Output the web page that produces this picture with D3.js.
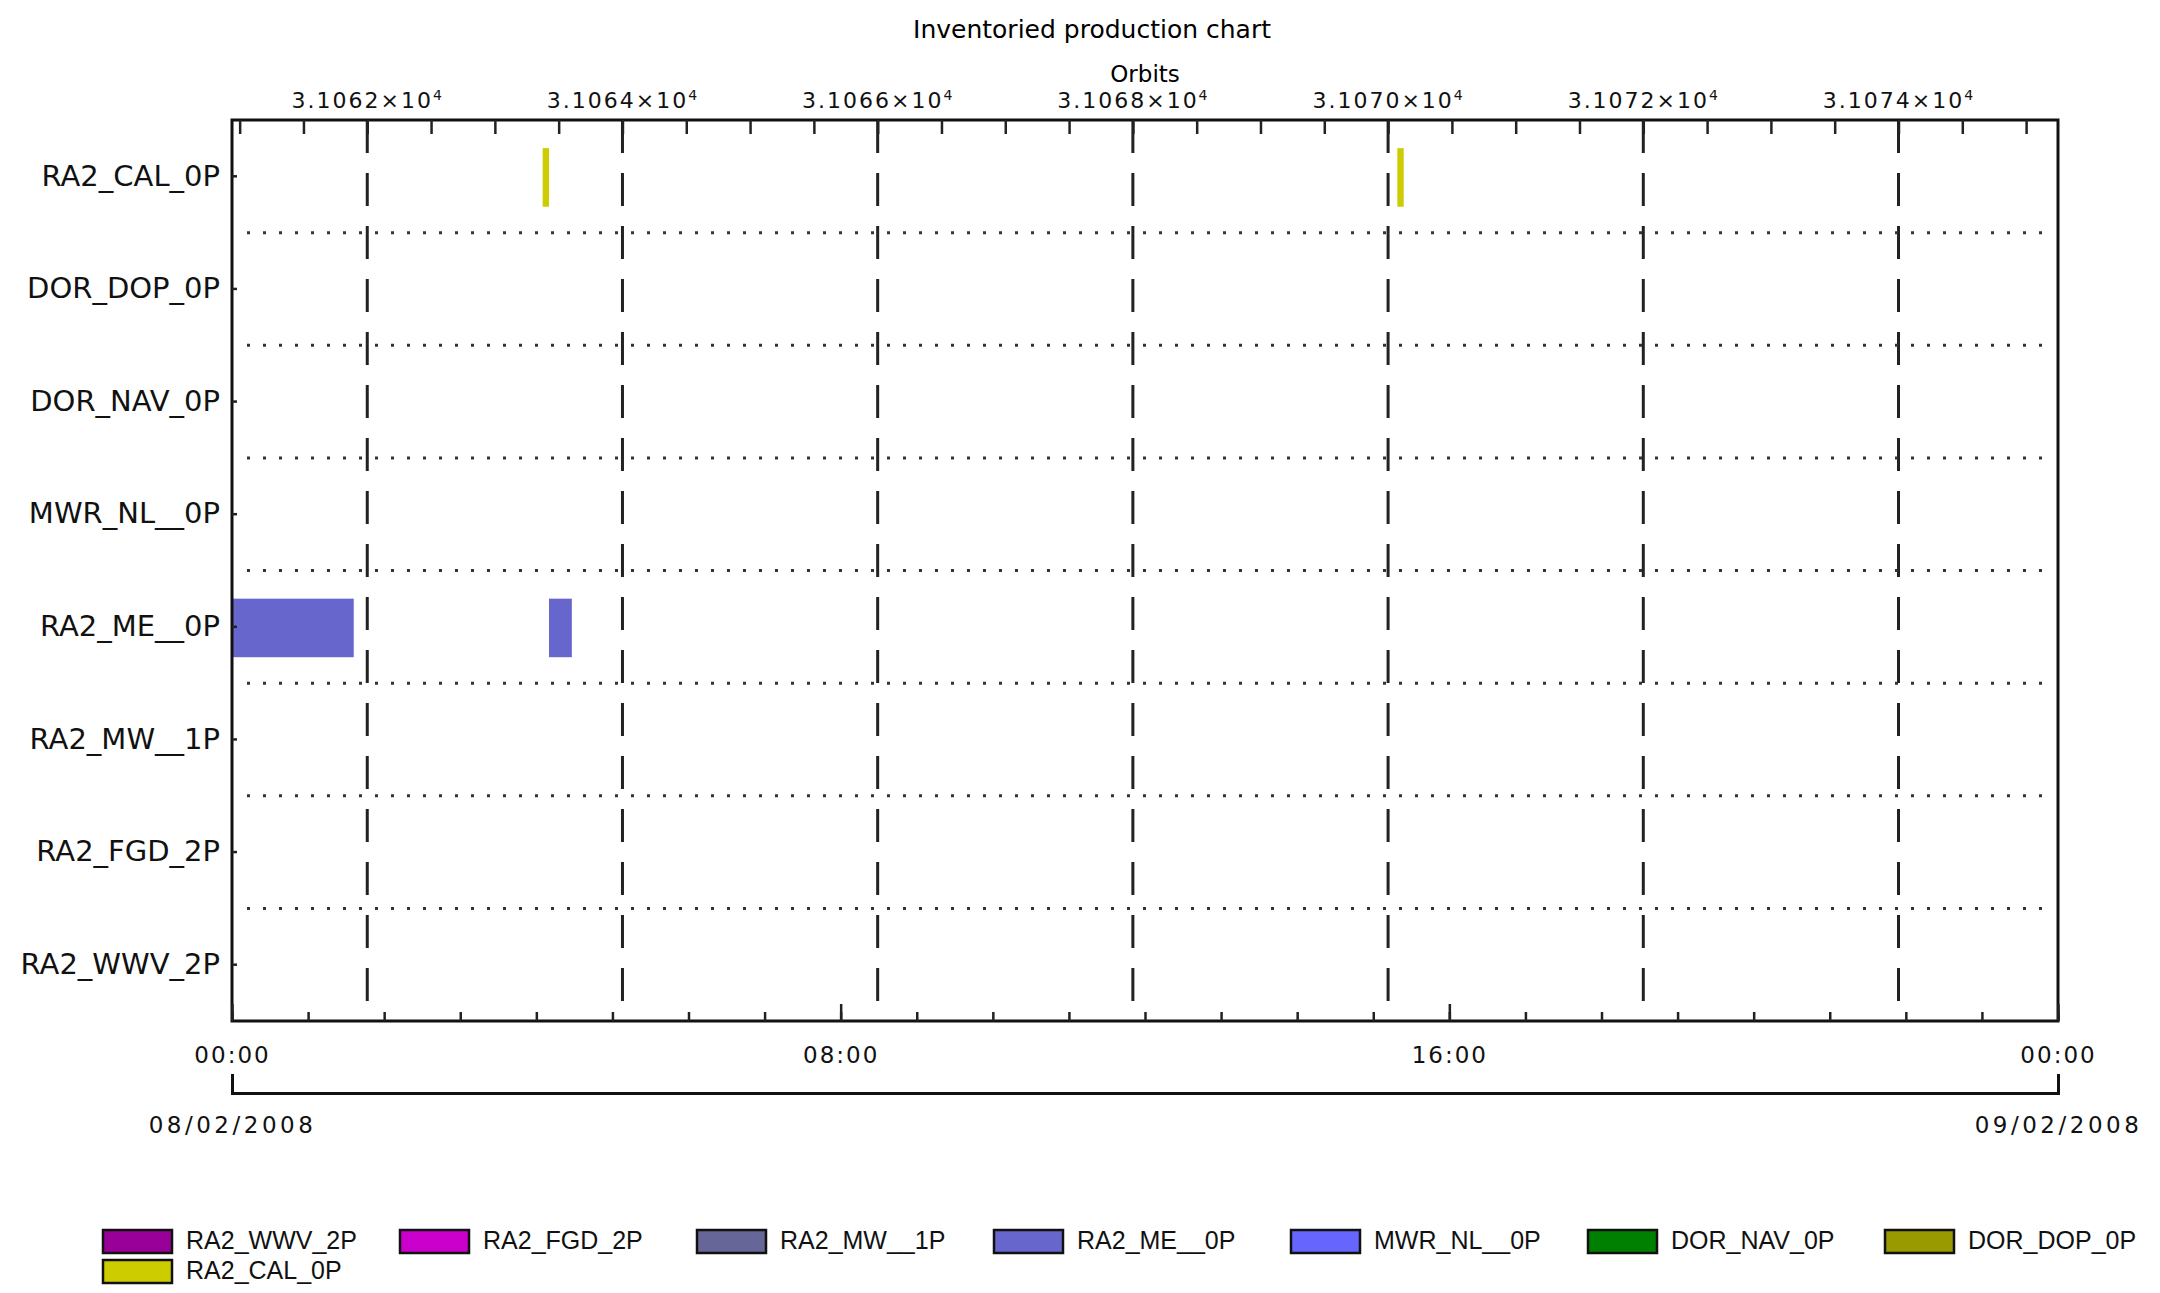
<!DOCTYPE html>
<html>
<head>
<meta charset="utf-8">
<script src="https://cdn.jsdelivr.net/npm/d3@7"></script>
<style>
  body { margin: 0; background: #fff; }
  svg { display: block; font-family: "DejaVu Sans", sans-serif; }
</style>
</head>
<body>
<svg width="2160" height="1293"></svg>
<script>
// rows, top to bottom
const categories = ['RA2_CAL_0P', 'DOR_DOP_0P', 'DOR_NAV_0P', 'MWR_NL__0P',
  'RA2_ME__0P', 'RA2_MW__1P', 'RA2_FGD_2P', 'RA2_WWV_2P'];

// legend order and colours
const legendNames = ['RA2_WWV_2P', 'RA2_FGD_2P', 'RA2_MW__1P', 'RA2_ME__0P',
  'MWR_NL__0P', 'DOR_NAV_0P', 'DOR_DOP_0P', 'RA2_CAL_0P'];
const legendColors = ['#990099', '#cc00cc', '#666699', '#6666cc',
  '#6666ff', '#008000', '#999900', '#cccc00'];

// inventoried products (UTC, 08/02/2008)
const productRow = ['RA2_CAL_0P', 'RA2_CAL_0P', 'RA2_ME__0P', 'RA2_ME__0P'];
const productStart = ['04:05', '15:19', '00:00', '04:10'];
const productEnd = ['04:10', '15:24', '01:36', '04:28'];

// orbit axis
const orbitDomain = [31060.94, 31075.25];
const orbitMajor = [31062, 31064, 31066, 31068, 31070, 31072, 31074];
const orbitMinor = d3.range(31061, 31075.01, 0.5);

const dateLabels = ['08/02/2008', '09/02/2008'];

const svg = d3.select('svg');
const plotLeft = 232, plotRight = 2058, plotTop = 120, plotBottom = 1021;

const parse = s => new Date(`2008-02-08T${s}:00Z`);

const x = d3.scaleUtc()
  .domain([new Date(Date.UTC(2008, 1, 8)), new Date(Date.UTC(2008, 1, 9))])
  .range([plotLeft, plotRight]);

const xOrbit = d3.scaleLinear()
  .domain(orbitDomain)
  .range([plotLeft, plotRight]);

const y = d3.scaleBand()
  .domain(categories)
  .range([plotTop, plotBottom]);

const bw = y.bandwidth();

// title
svg.append('text')
  .attr('x', 1092).attr('y', 38)
  .attr('text-anchor', 'middle')
  .attr('font-size', 25)
  .text('Inventoried production chart');

svg.append('text')
  .attr('x', (plotLeft + plotRight) / 2).attr('y', 82)
  .attr('text-anchor', 'middle')
  .attr('font-size', 23)
  .text('Orbits');

// vertical dashed grid at orbit majors
svg.append('g')
  .selectAll('line')
  .data(orbitMajor)
  .enter()
  .append('line')
  .attr('x1', d => xOrbit(d)).attr('x2', d => xOrbit(d))
  .attr('y1', plotTop).attr('y2', plotBottom)
  .attr('stroke', '#222')
  .attr('stroke-width', 3)
  .attr('stroke-dasharray', '33,20');

// dotted row separators
svg.append('g')
  .selectAll('line')
  .data(categories.slice(1))
  .enter()
  .append('line')
  .attr('x1', 247).attr('x2', 2050)
  .attr('y1', d => y(d)).attr('y2', d => y(d))
  .attr('stroke', '#333')
  .attr('stroke-width', 3)
  .attr('stroke-dasharray', '3,13');

// product bars
const products = productRow.map((row, i) => ({
  row: row, start: parse(productStart[i]), end: parse(productEnd[i])
}));

svg.append('g')
  .selectAll('rect')
  .data(products)
  .enter()
  .append('rect')
  .attr('x', d => x(d.start))
  .attr('y', d => y(d.row) + bw * 0.25)
  .attr('width', d => Math.max(x(d.end) - x(d.start), 5))
  .attr('height', bw * 0.52)
  .attr('fill', d => legendColors[legendNames.indexOf(d.row)]);

// frame
svg.append('rect')
  .attr('x', plotLeft).attr('y', plotTop)
  .attr('width', plotRight - plotLeft).attr('height', plotBottom - plotTop)
  .attr('fill', 'none')
  .attr('stroke', '#111')
  .attr('stroke-width', 3);

function styleAxis(g) {
  g.select('.domain').remove();
  g.selectAll('.tick line').attr('stroke', '#222').attr('stroke-width', 2.5);
  g.selectAll('.tick text').attr('fill', '#111');
}

// top orbit axis
svg.append('g')
  .attr('transform', `translate(0,${plotTop})`)
  .call(d3.axisTop(xOrbit).tickValues(orbitMinor).tickSize(-14).tickFormat(''))
  .call(styleAxis);

const orbitLabels = svg.append('g')
  .attr('transform', `translate(0,${plotTop})`)
  .call(d3.axisTop(xOrbit).tickValues(orbitMajor).tickSize(0).tickPadding(12).tickFormat(''))
  .call(styleAxis);

orbitLabels.selectAll('.tick text')
  .attr('font-size', 22)
  .attr('font-family', '"DejaVu Sans", sans-serif')
  .style('letter-spacing', '2px')
  .each(function (d) {
    const t = d3.select(this);
    t.append('tspan').text(`${(d / 1e4).toFixed(4)}×10`);
    t.append('tspan').attr('dy', -8).attr('font-size', 14).text('4');
  });

// bottom time axis
svg.append('g')
  .attr('transform', `translate(0,${plotBottom})`)
  .call(d3.axisBottom(x).ticks(d3.utcHour.every(1)).tickSize(-9).tickFormat(''))
  .call(styleAxis);

svg.append('g')
  .attr('transform', `translate(0,${plotBottom})`)
  .call(d3.axisBottom(x).ticks(d3.utcHour.every(8)).tickSize(-17).tickPadding(26)
    .tickFormat(d3.utcFormat('%H:%M')))
  .call(styleAxis)
  .selectAll('.tick text')
  .attr('font-size', 23)
  .attr('font-family', '"DejaVu Sans", sans-serif')
  .style('letter-spacing', '2px');

// left category axis
svg.append('g')
  .attr('transform', `translate(${plotLeft},0)`)
  .call(d3.axisLeft(y).tickSize(-5).tickPadding(12))
  .call(styleAxis)
  .selectAll('.tick text')
  .attr('font-size', 29)
  .attr('font-family', '"DejaVu Sans", sans-serif');

// date axis
const dateAxis = svg.append('g')
  .attr('transform', 'translate(0,1093)')
  .call(d3.axisBottom(x).tickValues(x.domain()).tickSize(0).tickSizeOuter(-19)
    .tickPadding(24).tickFormat((d, i) => dateLabels[i]));
dateAxis.select('.domain').attr('stroke', '#111').attr('stroke-width', 3);
dateAxis.selectAll('.tick text')
  .attr('font-size', 23)
  .attr('font-family', '"DejaVu Sans", sans-serif')
  .attr('fill', '#111')
  .style('letter-spacing', '3.5px');

// legend
const legend = svg.append('g')
  .selectAll('g')
  .data(legendNames)
  .enter()
  .append('g')
  .attr('transform', (d, i) => `translate(${103 + (i % 7) * 297},${1230 + Math.floor(i / 7) * 30})`);

legend.append('rect')
  .attr('width', 69).attr('height', 23)
  .attr('fill', (d, i) => legendColors[i])
  .attr('stroke', '#111')
  .attr('stroke-width', 2.5);

legend.append('text')
  .attr('x', 83).attr('y', 12)
  .attr('dominant-baseline', 'middle')
  .attr('font-family', '"Liberation Sans", sans-serif')
  .attr('font-size', 25)
  .attr('fill', '#111')
  .text(d => d);
</script>
</body>
</html>
